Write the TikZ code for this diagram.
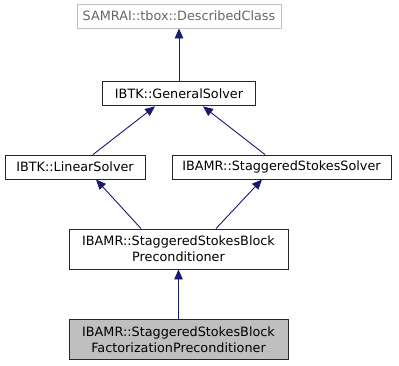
\documentclass[tikz,border=0pt]{standalone}
\usepackage{fontspec}
\setmainfont{DejaVu Sans}
\usepackage{xcolor}
\usetikzlibrary{positioning,arrows.meta}

\definecolor{edgeblue}{RGB}{25,25,112}
\definecolor{nodocgray}{RGB}{191,191,191}

\begin{document}
\begin{tikzpicture}[x=1pt, y=1pt,
  font=\fontsize{12.8}{16}\selectfont,
  cls/.style={draw=black!85, line width=0.9pt, fill=white, align=center, inner sep=0pt, minimum height=24pt},
  cls2/.style={cls, minimum width=219pt, minimum height=40pt},
  ext/.style={cls, draw=nodocgray, text=black!60},
  inh/.style={-{Triangle[length=10pt, width=8.5pt]}, draw=edgeblue, line width=0.9pt}]

\useasboundingbox (0,0) rectangle (399,-365);

% base classes
\node[ext, minimum width=204pt] (dc) at (179,-16) {SAMRAI::tbox::DescribedClass};
\node[cls, minimum width=153pt, below=53pt of dc] (gs) {IBTK::GeneralSolver};

% solver interfaces
\node[cls, minimum width=140pt] (ls) at (75,-167) {IBTK::LinearSolver};
\node[cls, minimum width=219pt] (sss) at (281.5,-167) {IBAMR::StaggeredStokesSolver};

% preconditioners
\node[cls2] (sbp) at (178.5,-249) {IBAMR::StaggeredStokesBlock\\Preconditioner};
\node[cls2, fill=nodocgray, below=50pt of sbp] (sbfp) {IBAMR::StaggeredStokesBlock\\FactorizationPreconditioner};

% inheritance edges
\draw[inh] (gs) -- (dc);
\draw[inh] ([xshift=18pt]ls.north) -- ([xshift=-24pt]gs.south);
\draw[inh] ([xshift=-16.5pt]sss.north) -- ([xshift=24pt]gs.south);
\draw[inh] ([xshift=-37.5pt]sbp.north) -- ([xshift=21pt]ls.south);
\draw[inh] ([xshift=37.5pt]sbp.north) -- ([xshift=-19.5pt]sss.south);
\draw[inh] (sbfp) -- (sbp);
\end{tikzpicture}
\end{document}
